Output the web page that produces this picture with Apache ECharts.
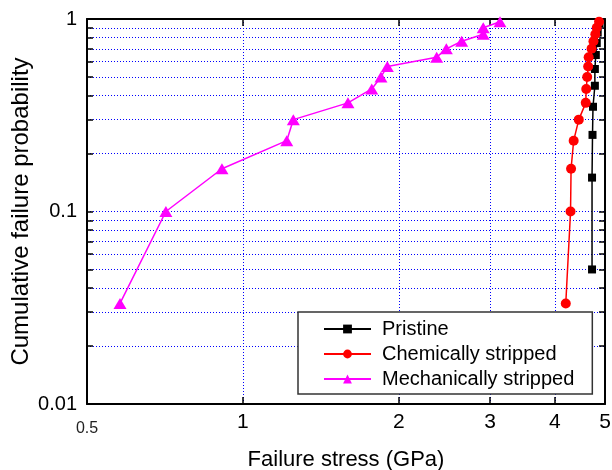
<!DOCTYPE html>
<html>
<head>
<meta charset="utf-8">
<script src="https://cdn.jsdelivr.net/npm/echarts@6/dist/echarts.min.js"></script>
<style>
  html, body { margin: 0; padding: 0; background: #fff; }
  #chart { width: 612px; height: 470px; }
</style>
</head>
<body>
<div id="chart"></div>
<script>
// ---- data ----
var pristineStress = [4.72, 4.72, 4.73, 4.74, 4.78, 4.78, 4.80, 4.82, 4.84, 4.88];
var pristineProb   = [0.05, 0.15, 0.25, 0.35, 0.45, 0.55, 0.65, 0.75, 0.85, 0.95];

var chemStress = [4.20, 4.29, 4.30, 4.35, 4.45, 4.59, 4.60, 4.62, 4.64, 4.65, 4.71, 4.75, 4.79, 4.82, 4.87];
var chemProb   = [0.0333, 0.1, 0.1667, 0.2333, 0.3, 0.3667, 0.4333, 0.5, 0.5667, 0.6333, 0.7, 0.7667, 0.8333, 0.9, 0.9667];

var mechStress = [0.579, 0.710, 0.911, 1.215, 1.251, 1.595, 1.773, 1.847, 1.90, 2.366, 2.47, 2.644, 2.91, 2.91, 3.135];
var mechProb   = [0.0333, 0.1, 0.1667, 0.2333, 0.3, 0.3667, 0.4333, 0.5, 0.5667, 0.6333, 0.7, 0.7667, 0.8333, 0.9, 0.9667];

var seriesNames = ['Pristine', 'Chemically stripped', 'Mechanically stripped'];

var xTicks  = [1, 2, 3, 4];
var xLabels = [0.5, 1, 2, 3, 4, 5];
var yTicks  = [0.01, 0.02, 0.03, 0.04, 0.05, 0.06, 0.07, 0.08, 0.09,
               0.1, 0.2, 0.3, 0.4, 0.5, 0.6, 0.7, 0.8, 0.9, 1];
var yLabels = [0.01, 0.1, 1];

function pairs(xs, ys) {
  return xs.map(function (x, i) { return [x, ys[i]]; });
}

var FONT = 'Liberation Sans, Arial, sans-serif';
var gridLine = { show: true, lineStyle: { color: '#0000ff', width: 1, type: [1, 2] } };
var axisLineStyle = { show: true, lineStyle: { color: '#000', width: 2 } };

var chart = echarts.init(document.getElementById('chart'), null, { renderer: 'canvas' });
chart.setOption({
  animation: false,
  backgroundColor: '#fff',
  grid: { left: 87, right: 7, top: 19, bottom: 66, containLabel: false, outerBoundsMode: 'none' },
  xAxis: [
    {
      type: 'log', logBase: 10, min: 0.5, max: 5, position: 'bottom',
      axisLine: axisLineStyle,
      axisTick: { show: true, inside: true, length: 7, customValues: xTicks, lineStyle: { color: '#000', width: 1.5 } },
      axisLabel: {
        show: true, customValues: xLabels, margin: 8,
        fontFamily: FONT, fontSize: 21, color: '#000',
        formatter: function (v) { return Math.abs(v - 0.5) < 1e-6 ? '{s|0.5}' : String(Math.round(v)); },
        rich: { s: { fontFamily: FONT, fontSize: 16, color: '#222', padding: [9, 0, 0, 0] } }
      },
      splitLine: gridLine,
      name: 'Failure stress (GPa)', nameLocation: 'middle', nameGap: 45, nameMoveOverlap: false,
      nameTextStyle: { fontFamily: FONT, fontSize: 22, color: '#000' }
    },
    {
      type: 'log', logBase: 10, min: 0.5, max: 5, position: 'top',
      axisLine: axisLineStyle,
      axisTick: { show: true, inside: true, length: 7, customValues: xTicks, lineStyle: { color: '#000', width: 1.5 } },
      axisLabel: { show: false },
      splitLine: { show: false }
    }
  ],
  yAxis: [
    {
      type: 'log', logBase: 10, min: 0.01, max: 1, position: 'left',
      axisLine: axisLineStyle,
      axisTick: { show: true, inside: true, length: 6, customValues: yTicks, lineStyle: { color: '#000', width: 1.5 } },
      axisLabel: {
        show: true, customValues: yLabels, margin: 10,
        fontFamily: FONT, fontSize: 20, color: '#000',
        formatter: function (v) { return v >= 0.999 ? '1' : (v >= 0.0999 ? '0.1' : '0.01'); }
      },
      splitLine: gridLine,
      name: 'Cumulative failure probability', nameLocation: 'middle', nameGap: 54, nameMoveOverlap: false,
      nameTextStyle: { fontFamily: FONT, fontSize: 24, color: '#000' }
    },
    {
      type: 'log', logBase: 10, min: 0.01, max: 1, position: 'right',
      axisLine: axisLineStyle,
      axisTick: { show: true, inside: true, length: 6, customValues: yTicks, lineStyle: { color: '#000', width: 1.5 } },
      axisLabel: { show: false },
      splitLine: { show: false }
    }
  ],
  legend: {
    orient: 'vertical', left: 298, top: 312,
    backgroundColor: '#fff', borderColor: '#333', borderWidth: 1.5,
    padding: [7, 18, 5, 25], itemGap: 5,
    itemWidth: 47, itemHeight: 11,
    textStyle: { fontFamily: FONT, fontSize: 20, color: '#000', padding: [0, 0, 0, 6] },
    data: seriesNames
  },
  series: [
    {
      name: seriesNames[0], type: 'line', xAxisIndex: 0, yAxisIndex: 0,
      data: pairs(pristineStress, pristineProb),
      symbol: 'rect', symbolSize: 8,
      lineStyle: { color: '#000', width: 1.5 },
      itemStyle: { color: '#000' }, z: 2
    },
    {
      name: seriesNames[1], type: 'line', xAxisIndex: 0, yAxisIndex: 0,
      data: pairs(chemStress, chemProb),
      symbol: 'circle', symbolSize: 10,
      lineStyle: { color: '#ff0000', width: 1.5 },
      itemStyle: { color: '#ff0000' }, z: 3
    },
    {
      name: seriesNames[2], type: 'line', xAxisIndex: 0, yAxisIndex: 0,
      data: pairs(mechStress, mechProb),
      symbol: 'triangle', symbolSize: [13, 11],
      lineStyle: { color: '#ff00ff', width: 1.5 },
      itemStyle: { color: '#ff00ff' }, z: 4
    }
  ]
});
</script>
</body>
</html>
